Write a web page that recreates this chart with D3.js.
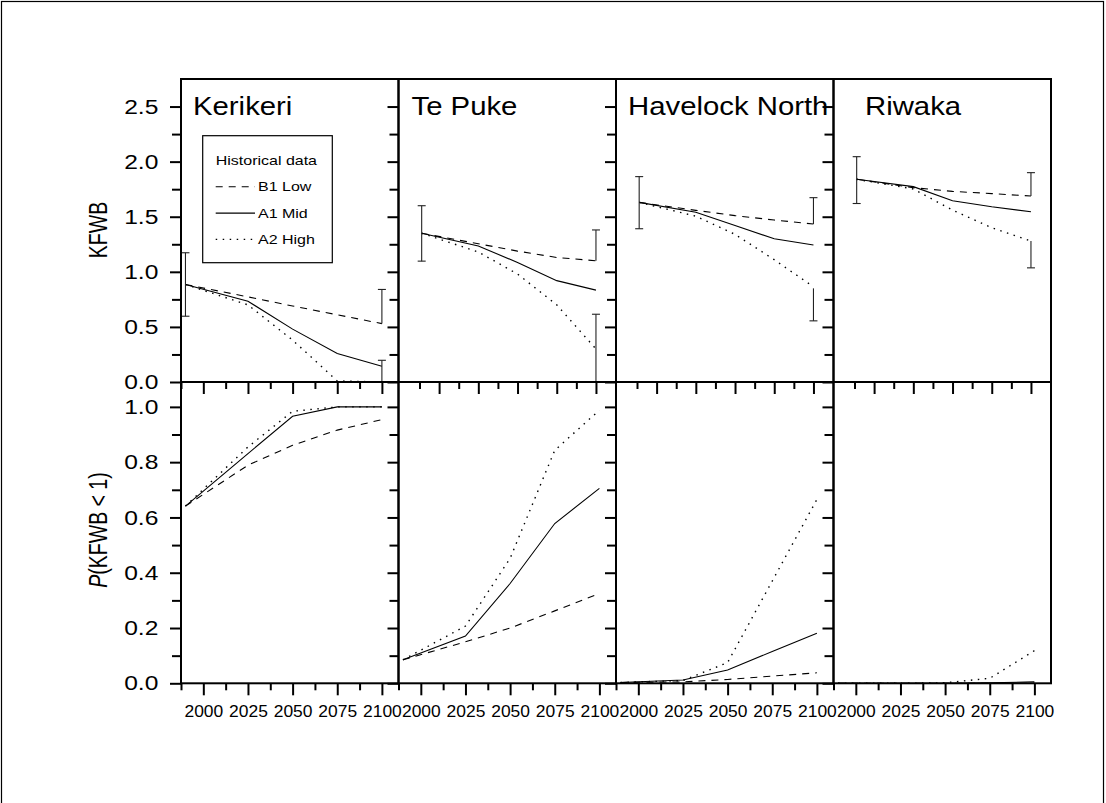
<!DOCTYPE html>
<html>
<head>
<meta charset="utf-8">
<script src="https://cdn.jsdelivr.net/npm/d3@7"></script>
<style>
body { margin: 0; background: #fff; }
svg text { font-family: "Liberation Sans", Arial, sans-serif; fill: #000; }
</style>
</head>
<body>
<svg id="chart" width="1106" height="803"></svg>
<script>
// ---- data ----
var sites = ["Kerikeri", "Te Puke", "Havelock North", "Riwaka"];

// KFWB (upper row); Kerikeri is on the same year axis as the lower row,
// the other three sites use the offset axis of the original figure
var kfwbYears = [
  [1990, 2025, 2050, 2075, 2100],
  [2000, 2032.5, 2055, 2077.5, 2100],
  [2000, 2032.5, 2055, 2077.5, 2100],
  [2000, 2032.5, 2055, 2077.5, 2100]
];
var kfwbB1 = [
  [0.885, 0.773, 0.69, 0.61, 0.53],
  [1.35, 1.255, 1.188, 1.13, 1.10],
  [1.63, 1.558, 1.51, 1.47, 1.434],
  [1.84, 1.764, 1.73, 1.71, 1.688]
];
var kfwbA1 = [
  [0.885, 0.733, 0.48, 0.258, 0.143],
  [1.35, 1.234, 1.085, 0.92, 0.834],
  [1.63, 1.54, 1.42, 1.30, 1.243],
  [1.84, 1.773, 1.645, 1.59, 1.545]
];
var kfwbA2 = [
  [0.885, 0.70, 0.38, 0.01, 0.0],
  [1.35, 1.18, 0.98, 0.70, 0.30],
  [1.63, 1.505, 1.34, 1.11, 0.864],
  [1.84, 1.752, 1.56, 1.40, 1.28]
];

// error bars on the KFWB panels: year, low, high, which ends get a cap
var barYears = [[1990, 2100, 2100], [2000, 2100, 2100], [2000, 2100, 2100], [2000, 2100, 2100]];
var barLow  = [[0.597, 0.53, 0.0], [1.097, 1.10, 0.0], [1.391, 1.434, 0.555], [1.62, 1.688, 1.036]];
var barHigh = [[1.173, 0.84, 0.197], [1.60, 1.38, 0.615], [1.864, 1.673, 0.85], [2.045, 1.90, 1.279]];
var barCaps = [["both", "top", "top"], ["both", "top", "top"], ["both", "top", "bottom"], ["both", "top", "bottom"]];

// P(KFWB < 1) (lower row)
var probYears = [1990, 2025, 2050, 2075, 2100];
var probB1 = [
  [0.641, 0.789, 0.861, 0.916, 0.954],
  [0.085, 0.15, 0.2, 0.262, 0.325],
  [0.003, 0.005, 0.014, 0.026, 0.038],
  [0, 0, 0, 0, 0]
];
var probA1 = [
  [0.641, 0.831, 0.966, 1.0, 1.0],
  [0.085, 0.171, 0.361, 0.578, 0.705],
  [0.003, 0.012, 0.048, 0.115, 0.181],
  [0, 0, 0, 0.002, 0.005]
];
var probA2 = [
  [0.641, 0.855, 0.984, 1.0, 1.0],
  [0.085, 0.207, 0.452, 0.843, 0.988],
  [0.003, 0.01, 0.075, 0.37, 0.665],
  [0, 0, 0.002, 0.018, 0.118]
];

var yearTicks = [2000, 2025, 2050, 2075, 2100];
var yearMinor = [1987.5, 2012.5, 2037.5, 2062.5, 2087.5];
var altTicks = [2010, 2032.5, 2055, 2077.5, 2100];
var altMinor = [1998.75, 2021.25, 2043.75, 2066.25, 2088.75];
var kfwbTicks = [0, 0.5, 1.0, 1.5, 2.0, 2.5];
var kfwbMinor = [0.25, 0.75, 1.25, 1.75, 2.25];
var probTicks = [0, 0.2, 0.4, 0.6, 0.8, 1.0];
var probMinor = [0.1, 0.3, 0.5, 0.7, 0.9];

var scenarios = ["Historical data", "B1 Low", "A1 Mid", "A2 High"];

// ---- layout ----
var plotLeft = 181, plotRight = 1051, rowTop = 79, rowMid = 382, rowBottom = 683.3;
var dash = { "B1 Low": "7,6", "A1 Mid": null, "A2 High": "1.5,5.5" };

var svg = d3.select("#chart");

svg.append("rect")
    .attr("x", 1.5).attr("y", 1.5)
    .attr("width", 1102).attr("height", 806)
    .attr("fill", "#fff")
    .attr("stroke", "#000")
    .attr("stroke-width", 1.2);

var col = d3.scaleBand().domain(sites).range([plotLeft, plotRight]);
var yTop = d3.scaleLinear().domain([0, 2.75]).range([rowMid, rowTop]);
var yBot = d3.scaleLinear().domain([0, 1.09]).range([rowBottom, rowMid]);

function stretch(sel, sx) {
    sel.attr("transform", "scale(" + sx + ",1)");
}

sites.forEach(function(site, i) {
    var x0 = col(site), x1 = x0 + col.bandwidth();
    var xMain = d3.scaleLinear().domain([1987.5, 2109.3]).range([x0, x1]);
    var xAlt = d3.scaleLinear().domain([1986.7, 2111.5]).range([x0, x1]);
    var xTop = i === 0 ? xMain : xAlt;

    var g = svg.append("g").attr("class", "panel");

    // upper row lines
    var lineTop = d3.line()
        .x(function(d) { return xTop(d[0]); })
        .y(function(d) { return yTop(Math.max(d[1], 0)); });
    [["B1 Low", kfwbB1], ["A1 Mid", kfwbA1], ["A2 High", kfwbA2]].forEach(function(s) {
        g.append("path")
            .datum(d3.zip(kfwbYears[i], s[1][i]))
            .attr("d", lineTop)
            .attr("fill", "none")
            .attr("stroke", "#000")
            .attr("stroke-width", s[0] === "A2 High" ? 1.4 : 1.1)
            .attr("stroke-dasharray", dash[s[0]]);
    });

    // error bars
    barYears[i].forEach(function(yr, j) {
        var bx = xTop(yr), ylo = yTop(barLow[i][j]), yhi = yTop(barHigh[i][j]);
        g.append("line")
            .attr("x1", bx).attr("x2", bx)
            .attr("y1", ylo).attr("y2", yhi)
            .attr("stroke", "#222").attr("stroke-width", 1.1);
        var caps = barCaps[i][j] === "both" ? [ylo, yhi] : barCaps[i][j] === "top" ? [yhi] : [ylo];
        caps.forEach(function(cy) {
            g.append("line")
                .attr("x1", bx - 4).attr("x2", bx + 4)
                .attr("y1", cy).attr("y2", cy)
                .attr("stroke", "#222").attr("stroke-width", 1.1);
        });
    });

    // lower row lines
    var lineBot = d3.line()
        .x(function(d) { return xMain(d[0]); })
        .y(function(d) { return yBot(d[1]); });
    [["B1 Low", probB1], ["A1 Mid", probA1], ["A2 High", probA2]].forEach(function(s) {
        g.append("path")
            .datum(d3.zip(probYears, s[1][i]))
            .attr("d", lineBot)
            .attr("fill", "none")
            .attr("stroke", "#000")
            .attr("stroke-width", s[0] === "A2 High" ? 1.4 : 1.1)
            .attr("stroke-dasharray", dash[s[0]]);
    });

    // left axes, ticks pointing outwards
    var yaT = g.append("g").attr("transform", "translate(" + x0 + ",0)")
        .call(d3.axisLeft(yTop).tickValues(kfwbTicks).tickSize(11).tickSizeOuter(0)
            .tickFormat(i === 0 ? d3.format(".1f") : ""));
    g.append("g").attr("transform", "translate(" + x0 + ",0)")
        .call(d3.axisLeft(yTop).tickValues(kfwbMinor).tickSize(9).tickSizeOuter(0).tickFormat(""));
    var yaB = g.append("g").attr("transform", "translate(" + x0 + ",0)")
        .call(d3.axisLeft(yBot).tickValues(probTicks).tickSize(11).tickSizeOuter(0)
            .tickFormat(i === 0 ? d3.format(".1f") : ""));
    g.append("g").attr("transform", "translate(" + x0 + ",0)")
        .call(d3.axisLeft(yBot).tickValues(probMinor).tickSize(9).tickSizeOuter(0).tickFormat(""));

    [yaT, yaB].forEach(function(a) {
        a.selectAll("text")
            .attr("x", -22.7 / 1.2)
            .style("font-size", "20.5px")
            .call(stretch, 1.2);
    });

    // x ticks under the upper row (no labels)
    g.append("g").attr("transform", "translate(0," + rowMid + ")")
        .call(d3.axisBottom(xTop).tickValues(i === 0 ? yearTicks : altTicks).tickSize(12).tickSizeOuter(0).tickFormat(""));
    g.append("g").attr("transform", "translate(0," + rowMid + ")")
        .call(d3.axisBottom(xTop).tickValues(i === 0 ? yearMinor : altMinor).tickSize(7).tickSizeOuter(0).tickFormat(""));

    // x axis of the lower row
    var xa = g.append("g").attr("transform", "translate(0," + rowBottom + ")")
        .call(d3.axisBottom(xMain).tickValues(yearTicks).tickSize(12).tickSizeOuter(0).tickFormat(d3.format("d")));
    g.append("g").attr("transform", "translate(0," + rowBottom + ")")
        .call(d3.axisBottom(xMain).tickValues(yearMinor).tickSize(7).tickSizeOuter(0).tickFormat(""));
    xa.selectAll("text")
        .attr("y", 22)
        .attr("dy", "0.71em")
        .style("font-size", "16.3px")
        .call(stretch, 1.07);

    g.selectAll(".domain").remove();
    g.selectAll(".tick line").attr("stroke", "#000").attr("stroke-width", 2);

    // panel frames
    [[rowTop, rowMid], [rowMid, rowBottom]].forEach(function(r) {
        g.append("rect")
            .attr("x", x0).attr("y", r[0])
            .attr("width", x1 - x0).attr("height", r[1] - r[0])
            .attr("fill", "none")
            .attr("stroke", "#000")
            .attr("stroke-width", 2);
    });

    // site name
    g.append("text")
        .attr("transform", "translate(" + (x0 + [12, 13, 12, 31.5][i]) + ",115) scale(1.15,1)")
        .style("font-size", "25.5px")
        .text(site);
});

// axis titles
svg.append("text")
    .attr("transform", "translate(98,230) scale(1.35,1) rotate(-90)")
    .attr("text-anchor", "middle")
    .attr("dy", "0.35em")
    .style("font-size", "19.5px")
    .text("KFWB");

var pt = svg.append("text")
    .attr("transform", "translate(98,530) scale(1.35,1) rotate(-90)")
    .attr("text-anchor", "middle")
    .attr("dy", "0.35em")
    .style("font-size", "19.5px");
pt.append("tspan").style("font-style", "italic").text("P");
pt.append("tspan").text("(KFWB < 1)");

// legend inside the Kerikeri panel
var lg = svg.append("g").attr("transform", "translate(202.7,135.7)");
lg.append("rect")
    .attr("width", 129.6).attr("height", 127)
    .attr("fill", "#fff")
    .attr("stroke", "#000")
    .attr("stroke-width", 1.2);
scenarios.forEach(function(name, k) {
    var ty = 29.3 + k * 26.3;
    if (k > 0) {
        lg.append("line")
            .attr("x1", 13).attr("x2", 52.3)
            .attr("y1", ty - 4.5).attr("y2", ty - 4.5)
            .attr("stroke", "#000")
            .attr("stroke-width", name === "A2 High" ? 1.4 : 1.1)
            .attr("stroke-dasharray", dash[name]);
    }
    lg.append("text")
        .attr("transform", "translate(" + (k > 0 ? 55.3 : 13) + "," + ty + ") scale(1.27,1)")
        .style("font-size", "12.6px")
        .text(name);
});
</script>
</body>
</html>
